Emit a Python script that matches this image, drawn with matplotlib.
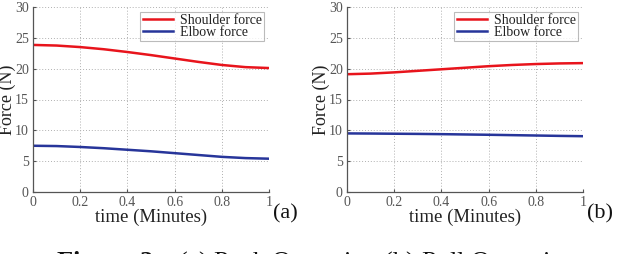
import matplotlib
matplotlib.use("Agg")
import matplotlib.pyplot as plt

# time axis (minutes)
t = [0, 0.1, 0.2, 0.3, 0.4, 0.5, 0.6, 0.7, 0.8, 0.9, 1.0]

# (a) push operation
push_shoulder = [23.85, 23.75, 23.5, 23.15, 22.7, 22.2, 21.65, 21.1, 20.6, 20.25, 20.1]
push_elbow = [7.5, 7.45, 7.3, 7.1, 6.85, 6.6, 6.3, 6.0, 5.7, 5.5, 5.4]

# (b) pull operation
pull_shoulder = [19.1, 19.2, 19.4, 19.65, 19.9, 20.15, 20.4, 20.6, 20.75, 20.85, 20.9]
pull_elbow = [9.5, 9.48, 9.45, 9.42, 9.38, 9.33, 9.28, 9.22, 9.16, 9.1, 9.05]

panels = [("(a)", push_shoulder, push_elbow), ("(b)", pull_shoulder, pull_elbow)]

plt.rcParams['font.family'] = ['Liberation Serif', 'DejaVu Serif']
plt.rcParams['mathtext.fontset'] = 'custom'
plt.rcParams['mathtext.rm'] = 'Liberation Serif'
plt.rcParams['mathtext.bf'] = 'Liberation Serif:bold'
red = "#e8141c"
blue = "#27359a"
grey = "#555555"

fig = plt.figure(figsize=(6.4, 2.54), dpi=100)
lefts = [33 / 640, 347 / 640]

for left, (tag, shoulder, elbow) in zip(lefts, panels):
    ax = fig.add_axes([left, 1 - 192 / 254, 236 / 640, 185 / 254])
    ax.plot(t, shoulder, color=red, lw=1.8, label="Shoulder force")
    ax.plot(t, elbow, color=blue, lw=1.8, label="Elbow force")
    ax.set_xlim(0, 1)
    ax.set_ylim(0, 30)
    ax.set_xticks([0, 0.2, 0.4, 0.6, 0.8, 1])
    ax.set_xticklabels(["0", "0.2", "0.4", "0.6", "0.8", "1"])
    ax.set_yticks(range(0, 31, 5))
    ax.grid(True, linestyle=(0, (1, 2)), color="#b0b0b0", lw=0.7)
    ax.spines['top'].set_visible(False)
    ax.spines['right'].set_visible(False)
    for s in ['left', 'bottom']:
        ax.spines[s].set_color(grey)
        ax.spines[s].set_linewidth(0.9)
    ax.tick_params(direction='in', length=2, colors=grey, labelsize=10, pad=3)
    ax.set_xlabel("time (Minutes)", fontsize=13.5, labelpad=0, color="#222222")
    ax.set_ylabel("Force (N)", fontsize=13, labelpad=-1, color="#222222")
    leg = ax.legend(loc="upper right", fontsize=10, frameon=True, fancybox=False,
                    handlelength=2.2, labelspacing=-0.05, borderpad=0.15,
                    handletextpad=0.5, borderaxespad=0.35)
    leg.get_frame().set_edgecolor("#aaaaaa")
    leg.get_frame().set_linewidth(0.8)
    for txt in leg.get_texts():
        txt.set_color("#222222")
    fig.text(left + 236 / 640 + 4 / 640, 1 - 204 / 254, tag, fontsize=16,
             ha="left", va="top", color="#111111")

fig.text(317 / 640, 1 - 249 / 254, r"$\mathbf{Figure\ 2:}$ (a) Push Operation (b) Pull Operation",
         fontsize=19, ha="center", va="top", color="#111111")

fig.savefig("out.png", dpi=100)
